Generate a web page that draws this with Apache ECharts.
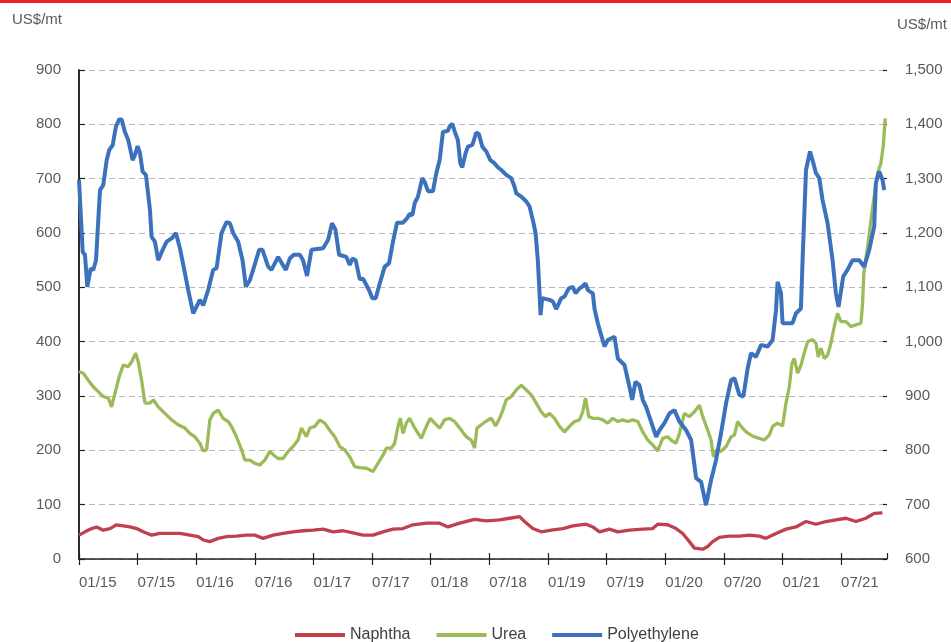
<!DOCTYPE html>
<html>
<head>
<meta charset="utf-8">
<script src="https://cdn.jsdelivr.net/npm/echarts@6/dist/echarts.min.js"></script>
<style>
  html, body { margin: 0; padding: 0; background: #ffffff; }
  #chart { width: 951px; height: 642px; }
</style>
</head>
<body>
<div id="chart"></div>
<script>
// Time is expressed in months since January 2015.
var xTickLabels = ['01/15', '07/15', '01/16', '07/16', '01/17', '07/17', '01/18',
                   '07/18', '01/19', '07/19', '01/20', '07/20', '01/21', '07/21'];

// Polyethylene, US$/mt (right axis)
var peMonths = [0,0.38,0.61,0.85,1.2,1.46,1.74,2.15,2.48,2.83,
  3.1,3.45,3.78,4.12,4.37,4.7,5.04,5.49,5.73,6.0,
  6.24,6.51,6.85,7.26,7.43,7.77,8.11,8.56,8.97,9.48,
  9.92,10.33,10.84,11.18,11.69,12.37,12.71,13.22,13.73,14.08,
  14.59,15.1,15.44,15.78,16.29,16.74,17.08,17.48,17.82,18.44,
  18.78,19.36,19.7,20.38,21.17,21.57,21.98,22.6,22.93,23.34,
  23.79,24.98,25.49,25.9,26.25,26.62,27.37,27.71,27.99,28.32,
  28.73,29.07,29.68,30.03,30.37,30.78,31.29,31.73,32.14,32.55,
  33.16,33.57,33.84,34.12,34.36,34.69,35.14,35.38,35.72,36.23,
  36.57,36.91,37.25,37.76,37.93,38.21,38.45,38.78,39.03,39.23,
  39.57,39.81,40.26,40.66,40.93,41.28,41.69,42.1,42.54,42.87,
  43.22,43.73,44.24,44.58,44.75,45.27,45.78,46.11,46.45,46.73,
  46.96,47.14,47.24,47.41,48.16,48.5,48.84,49.36,49.69,50.13,
  50.54,50.82,51.23,51.5,51.84,52.08,52.59,52.76,53.1,53.78,
  54.12,54.81,55.15,55.83,56.34,56.62,56.95,57.36,57.7,58.04,
  58.38,59.07,59.41,59.92,60.43,60.94,61.45,62.14,62.65,63.16,
  63.67,64.18,64.69,65.2,65.71,66.23,66.74,67.08,67.59,68.0,
  68.44,68.78,69.29,69.81,70.48,70.99,71.34,71.5,71.85,72.01,
  73.03,73.38,73.89,74.06,74.41,74.82,75.08,75.43,75.77,76.1,
  76.62,77.13,77.47,77.74,78.22,78.66,79.17,79.86,80.37,80.88,
  81.39,81.56,81.9,82.24,82.41];
var peValues = [1298,1165,1160,1101,1135,1132,1150,1279,1288,1334,
  1353,1362,1396,1409,1409,1386,1371,1334,1344,1360,
  1347,1313,1307,1243,1193,1184,1150,1169,1184,1190,
  1200,1172,1126,1095,1052,1077,1067,1095,1132,1135,
  1200,1220,1218,1200,1184,1150,1101,1113,1132,1169,
  1169,1138,1132,1156,1132,1153,1160,1160,1150,1121,
  1169,1172,1187,1218,1206,1160,1156,1141,1153,1150,
  1115,1116,1095,1080,1080,1107,1138,1144,1184,1219,
  1219,1227,1235,1233,1255,1267,1301,1294,1277,1277,
  1310,1334,1386,1388,1396,1401,1387,1371,1328,1321,
  1347,1359,1362,1385,1382,1359,1350,1334,1328,1321,
  1316,1307,1301,1285,1273,1267,1258,1249,1224,1200,
  1150,1089,1049,1080,1077,1074,1060,1080,1083,1098,
  1101,1089,1098,1101,1107,1095,1089,1061,1034,991,
  1003,1009,969,957,917,893,926,920,893,880,
  862,825,837,850,868,874,853,837,819,749,
  742,699,745,782,831,887,929,933,902,899,
  951,979,972,994,991,1003,1058,1110,1089,1034,
  1034,1052,1061,1150,1316,1350,1334,1310,1301,1261,
  1218,1150,1089,1064,1120,1132,1150,1150,1138,1169,
  1212,1292,1313,1298,1279];

// Urea, US$/mt (left axis)
var ureaMonths = [0,0.44,0.95,1.46,1.97,2.48,3.0,3.34,3.68,4.12,
  4.53,5.04,5.39,5.8,6.06,6.41,6.75,7.26,7.6,8.11,
  8.79,9.48,10.15,10.84,11.35,11.86,12.37,12.71,13.06,13.39,
  13.73,14.24,14.75,15.27,15.61,16.12,16.64,16.97,17.48,18.0,
  18.51,19.02,19.53,19.94,20.38,20.89,21.4,21.91,22.42,22.77,
  23.28,23.62,24.13,24.64,25.15,25.66,26.18,26.69,27.2,27.71,
  28.22,28.73,29.42,30.09,30.6,31.11,31.46,31.97,32.31,32.65,
  32.89,33.16,33.5,33.84,34.36,35.04,35.55,35.96,36.4,36.91,
  37.42,37.93,38.45,38.96,39.64,40.15,40.49,40.73,41.18,41.62,
  42.2,42.64,43.05,43.38,43.73,44.24,44.75,45.27,45.78,46.29,
  46.8,47.31,47.75,48.16,48.67,49.18,49.69,50.2,50.72,51.23,
  51.56,51.84,52.18,52.59,53.1,53.61,54.12,54.63,55.15,55.65,
  56.17,56.68,57.19,57.7,58.21,58.72,59.23,59.74,60.25,60.6,
  61.11,61.45,61.96,62.47,62.99,63.5,63.84,64.35,64.69,64.93,
  65.26,65.71,66.23,66.74,67.08,67.41,67.76,68.27,68.95,69.63,
  70.14,70.65,70.99,71.5,72.01,72.36,72.7,72.97,73.21,73.55,
  73.9,74.23,74.57,75.08,75.43,75.66,75.94,76.28,76.62,76.96,
  77.3,77.64,77.98,78.5,79.01,79.52,80.03,80.2,80.33,80.72,
  81.23,81.73,82.07,82.31,82.52];
var ureaValues = [345,342,329,317,308,299,296,280,305,336,
  357,354,363,379,363,329,287,287,293,280,
  268,256,247,241,231,225,213,199,201,256,
  268,274,259,253,244,225,201,182,182,176,
  173,182,198,191,185,185,198,207,219,241,
  225,241,244,256,250,237,225,207,201,188,
  170,168,167,161,176,191,204,204,213,244,
  259,231,250,259,241,222,244,259,250,241,
  256,259,253,241,225,219,204,241,247,253,
  259,245,259,274,293,299,311,320,311,302,
  287,271,262,268,259,244,234,244,253,256,
  271,296,262,259,259,256,250,259,253,256,
  253,256,253,234,219,210,199,222,225,219,
  213,231,268,262,271,283,262,237,219,188,
  201,198,207,225,228,253,244,234,226,222,
  219,228,244,250,245,287,317,360,369,342,
  357,379,400,404,397,372,388,369,375,397,
  428,452,437,437,428,431,434,470,526,575,
  648,710,728,759,811];

// Naphtha (left axis)
var naphthaMonths = [0,0.61,1.3,1.81,2.48,3.17,3.85,4.53,5.21,5.9,
  6.57,7.43,8.28,9.3,10.33,11.35,12.2,12.71,13.39,14.24,
  15.1,16.12,17.15,18.0,18.84,19.87,20.89,21.91,22.93,23.96,
  24.98,26.0,27.02,28.05,29.07,30.09,31.11,32.14,33.16,34.18,
  35.55,36.91,37.76,38.96,40.49,41.69,43.05,44.07,45.09,45.6,
  46.45,47.31,48.33,49.52,50.54,51.91,52.59,53.27,54.29,55.15,
  56.34,57.7,58.72,59.23,60.25,61.11,61.79,62.47,62.99,63.84,
  64.35,64.86,65.54,66.56,67.59,68.61,69.63,70.31,71.34,72.36,
  73.38,74.41,75.43,76.45,77.47,78.5,79.52,80.54,81.39,82.24];
var naphthaValues = [44,50,56,59,53,56,63,61,59,56,
  50,44,47,47,47,44,41,35,32,38,
  41,42,44,44,38,44,47,50,52,53,
  55,50,52,48,44,44,50,55,56,63,
  66,66,59,66,73,70,72,75,78,69,
  56,50,53,56,61,64,59,50,55,50,
  53,55,56,64,63,56,47,32,20,18,
  23,32,40,42,42,44,42,38,47,55,
  59,69,64,69,72,75,69,75,84,85];

function pairs(xs, ys) {
  return xs.map(function (x, i) { return [x, ys[i]]; });
}

var FONT = '"Liberation Sans", Arial, sans-serif';
var TEXT_GREY = '#595959';
var AXIS_DARK = '#1f1f1f';
var X_MAX = 82.7;

var chart = echarts.init(document.getElementById('chart'), null, { renderer: 'canvas' });

chart.setOption({
  animation: false,
  backgroundColor: '#ffffff',
  textStyle: { fontFamily: FONT },
  grid: { left: 79, right: 64, top: 70, bottom: 83 },
  graphic: [
    { type: 'rect', left: 0, top: 0, shape: { width: 951, height: 3 }, style: { fill: '#ed1c2e' } },
    { type: 'text', left: 12, top: 12, style: { text: 'US$/mt', font: '15px ' + FONT, fill: TEXT_GREY } },
    { type: 'text', left: 897, top: 17, style: { text: 'US$/mt', font: '15px ' + FONT, fill: TEXT_GREY } }
  ],
  legend: {
    left: 290, top: 622,
    icon: 'rect', itemWidth: 50, itemHeight: 4, itemGap: 26,
    textStyle: { fontSize: 16, color: '#404040', fontFamily: FONT },
    data: ['Naphtha', 'Urea', 'Polyethylene']
  },
  xAxis: [
    {
      type: 'value', min: 0, max: X_MAX, interval: 6,
      axisLine: { lineStyle: { color: AXIS_DARK, width: 1.5 } },
      axisTick: { length: 6, lineStyle: { color: AXIS_DARK, width: 1.2 } },
      splitLine: { show: false },
      axisLabel: {
        margin: 16, align: 'left', color: TEXT_GREY, fontSize: 15, fontFamily: FONT,
        showMaxLabel: false,
        formatter: function (v) {
          var k = Math.round(v / 6);
          return Math.abs(v - k * 6) < 1e-6 && xTickLabels[k] ? xTickLabels[k] : '';
        }
      }
    },
    {
      // inner half of the crossing tick marks
      type: 'value', min: 0, max: X_MAX, interval: 6, position: 'bottom',
      axisLine: { show: false },
      axisTick: { inside: true, length: 6, lineStyle: { color: AXIS_DARK, width: 1.2 } },
      axisLabel: { show: false },
      splitLine: { show: false }
    }
  ],
  yAxis: [
    {
      type: 'value', min: 0, max: 900, interval: 100, position: 'left',
      axisLine: { show: true, lineStyle: { color: AXIS_DARK, width: 1.5 } },
      axisTick: { show: false },
      axisLabel: { margin: 18, color: TEXT_GREY, fontSize: 15, fontFamily: FONT },
      splitLine: { show: true, lineStyle: { type: [6, 4], color: '#b8b8b8', width: 1 } }
    },
    {
      type: 'value', min: 600, max: 1500, interval: 100, position: 'right',
      axisLine: { show: true, lineStyle: { color: AXIS_DARK, width: 1.5 } },
      axisTick: { show: true, length: 6, lineStyle: { color: AXIS_DARK, width: 1.2 } },
      axisLabel: {
        margin: 18, color: TEXT_GREY, fontSize: 15, fontFamily: FONT,
        formatter: function (v) { return v.toLocaleString('en-US'); }
      },
      splitLine: { show: false }
    },
    {
      type: 'value', min: 600, max: 1500, interval: 100, position: 'right',
      axisLine: { show: false },
      axisTick: { show: true, inside: true, length: 4, lineStyle: { color: AXIS_DARK, width: 1.2 } },
      axisLabel: { show: false },
      splitLine: { show: false }
    }
  ],
  series: [
    {
      name: 'Naphtha', type: 'line', xAxisIndex: 0, yAxisIndex: 0,
      symbol: 'none', showSymbol: false,
      color: '#c0404d',
      lineStyle: { width: 3.3, color: '#c0404d' },
      data: pairs(naphthaMonths, naphthaValues)
    },
    {
      name: 'Urea', type: 'line', xAxisIndex: 0, yAxisIndex: 0,
      symbol: 'none', showSymbol: false,
      color: '#9bbb59',
      lineStyle: { width: 3.3, color: '#9bbb59' },
      data: pairs(ureaMonths, ureaValues)
    },
    {
      name: 'Polyethylene', type: 'line', xAxisIndex: 0, yAxisIndex: 1,
      symbol: 'none', showSymbol: false,
      color: '#3c72bb',
      lineStyle: { width: 4, color: '#3c72bb' },
      data: pairs(peMonths, peValues)
    }
  ]
});
</script>
</body>
</html>
